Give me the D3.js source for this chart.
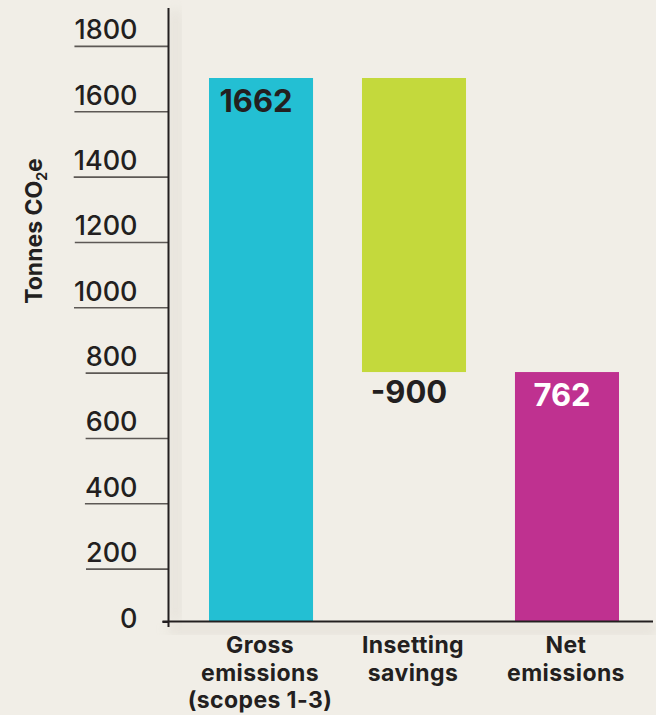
<!DOCTYPE html>
<html>
<head>
<meta charset="utf-8">
<script src="https://cdn.jsdelivr.net/npm/d3@7"></script>
<style>
  html, body { margin: 0; padding: 0; background: #f1eee7; }
  svg { display: block; font-family: Inter, "Open Sans", sans-serif; }
</style>
</head>
<body>
<div id="chart"></div>
<script>
// data
var categories = ["Gross emissions (scopes 1-3)", "Insetting savings", "Net emissions"];
var categoryLines = [["Gross", "emissions", "(scopes 1-3)"], ["Insetting", "savings"], ["Net", "emissions"]];
var barStart = [0, 1662, 0];
var barEnd = [1662, 762, 762];
var barLabels = ["1662", "-900", "762"];
var barColors = ["#23bfd3", "#c4d93c", "#bf3190"];
var labelColors = ["#231f20", "#231f20", "#ffffff"];
var tickValues = [0, 200, 400, 600, 800, 1000, 1200, 1400, 1600, 1800];

var width = 656, height = 715;
var axisX = 168.5, baseY = 621;
var ink = "#231f20";

var svg = d3.select("#chart").append("svg")
    .attr("width", width)
    .attr("height", height);

var y = d3.scaleLinear().domain([0, 1662]).range([baseY, 78]);
var x = d3.scaleBand().domain(categories).range([168, 660])
    .paddingInner(0.32).paddingOuter(0.268);

// soft shadow along the axes
var defs = svg.append("defs");
defs.append("filter").attr("id", "blur")
    .append("feGaussianBlur").attr("stdDeviation", 6);
svg.append("rect").attr("x", axisX + 2).attr("y", 10).attr("width", 10).attr("height", baseY - 10)
    .attr("fill", "#d8d3ca").attr("opacity", 0.5).attr("filter", "url(#blur)");
svg.append("rect").attr("x", axisX).attr("y", baseY + 3).attr("width", width - axisX).attr("height", 10)
    .attr("fill", "#d8d3ca").attr("opacity", 0.5).attr("filter", "url(#blur)");

// bars
svg.selectAll("rect.bar")
    .data(categories)
    .enter()
    .append("rect")
    .attr("class", "bar")
    .attr("x", function(d) { return x(d); })
    .attr("width", x.bandwidth())
    .attr("y", function(d, i) { return y(Math.max(barStart[i], barEnd[i])); })
    .attr("height", function(d, i) { return Math.abs(y(barStart[i]) - y(barEnd[i])); })
    .attr("fill", function(d, i) { return barColors[i]; });

// value labels
svg.selectAll("text.value")
    .data(categories)
    .enter()
    .append("text")
    .attr("class", "value")
    .attr("x", function(d) { return x(d) + x.bandwidth() / 2 - 5; })
    .attr("y", function(d, i) {
        if (i == 1) return y(barEnd[i]) + 31;
        return y(Math.max(barStart[i], barEnd[i])) + 34;
    })
    .attr("text-anchor", "middle")
    .style("font-size", "31px")
    .style("font-weight", 700)
    .style("fill", function(d, i) { return labelColors[i]; })
    .text(function(d, i) { return barLabels[i]; });

// y axis
var yAxis = svg.append("g")
    .attr("transform", "translate(" + axisX + ",0)")
    .call(d3.axisLeft(y).tickValues(tickValues).tickFormat(d3.format("d")).tickSize(0).tickPadding(31));
yAxis.select(".domain").remove();
yAxis.selectAll("text")
    .attr("dy", null)
    .attr("y", 6)
    .style("font-family", "Inter, 'Open Sans', sans-serif")
    .style("font-size", "27px")
    .style("font-weight", 500)
    .style("fill", ink);
yAxis.selectAll(".tick").each(function(v) {
    var t = d3.select(this);
    if (v == 0) {
        t.append("line").attr("x1", -6).attr("x2", 0).attr("y1", 0.5).attr("y2", 0.5)
            .attr("stroke", ink).attr("stroke-width", 2);
        return;
    }
    var w = t.select("text").node().getComputedTextLength();
    t.append("line")
        .attr("x1", -31 - w).attr("x2", 0)
        .attr("y1", 13).attr("y2", 13)
        .attr("stroke", "#5d5855").attr("stroke-width", 1.6);
});

svg.append("line")
    .attr("x1", axisX).attr("x2", axisX)
    .attr("y1", 8).attr("y2", 627)
    .attr("stroke", ink).attr("stroke-width", 2);

// x axis
svg.append("line")
    .attr("x1", axisX - 6).attr("x2", 653)
    .attr("y1", baseY + 0.5).attr("y2", baseY + 0.5)
    .attr("stroke", ink).attr("stroke-width", 2);

var xLabels = svg.selectAll("text.cat")
    .data(categories)
    .enter()
    .append("text")
    .attr("class", "cat")
    .attr("text-anchor", "middle")
    .style("font-size", "23px")
    .style("letter-spacing", "0.4px")
    .style("font-weight", 700)
    .style("fill", ink);
xLabels.each(function(d, i) {
    var t = d3.select(this);
    categoryLines[i].forEach(function(line, j) {
        t.append("tspan")
            .attr("x", x(d) + x.bandwidth() / 2 - 1)
            .attr("y", 653 + j * 27.5)
            .text(line);
    });
});

// y title
var title = svg.append("text")
    .attr("transform", "translate(42,231) rotate(-90)")
    .attr("text-anchor", "middle")
    .style("font-size", "23px")
    .style("font-weight", 700)
    .style("fill", ink);
title.append("tspan").text("Tonnes CO");
title.append("tspan").attr("dy", 5).style("font-size", "14px").text("2");
title.append("tspan").attr("dy", -5).text("e");
</script>
</body>
</html>
